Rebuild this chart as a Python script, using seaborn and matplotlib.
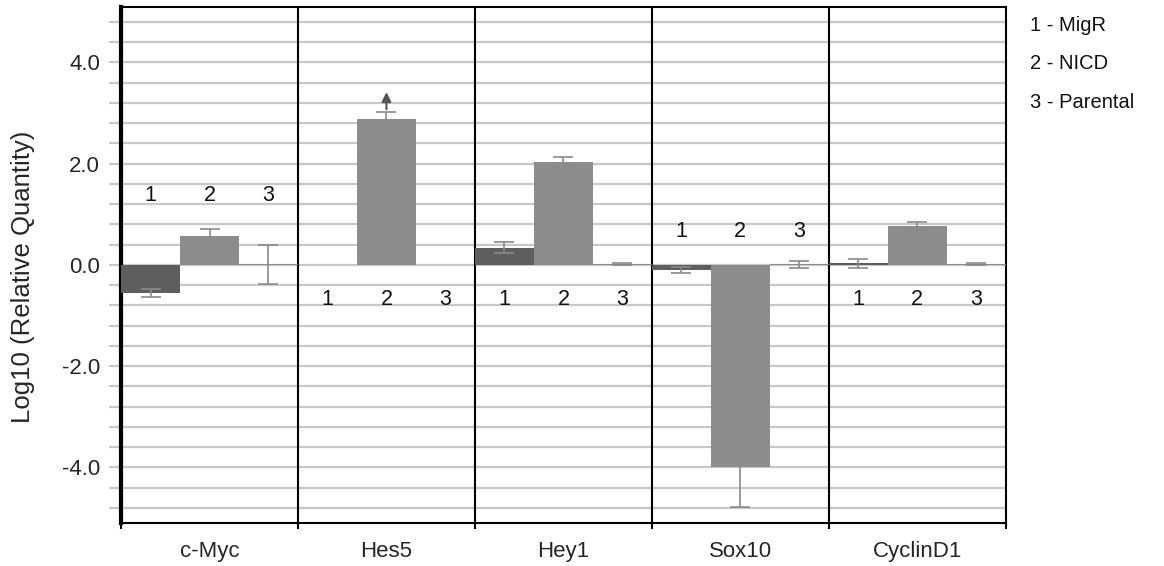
import numpy as np
import pandas as pd
import seaborn as sns
import matplotlib
matplotlib.use("Agg")
import matplotlib.pyplot as plt

# ---- data ----
genes = ["c-Myc", "Hes5", "Hey1", "Sox10", "CyclinD1"]
samples = ["1", "2", "3"]
sample_names = ["MigR", "NICD", "Parental"]
migr = [-0.55, 0.0, 0.34, -0.11, 0.03]
nicd = [0.57, 2.88, 2.03, -4.0, 0.77]
parental = [0.01, 0.0, 0.01, 0.01, 0.01]
migr_err = [0.08, np.nan, 0.11, 0.06, 0.09]
nicd_err = [0.14, 0.14, 0.10, 0.78, 0.08]
parental_err = [0.38, np.nan, 0.02, 0.07, 0.02]
# where the number labels sit for each gene
label_level = [1.38, -0.69, -0.69, 0.65, -0.69]
# Hes5 NICD error arrow tip
arrow_gene, arrow_sample, arrow_tip = "Hes5", "2", 3.47

ytick_labels = ["-4.0", "-2.0", "0.0", "2.0", "4.0"]

df = pd.DataFrame({
    "gene": genes * 3,
    "sample": sum([[s] * len(genes) for s in samples], []),
    "value": migr + nicd + parental,
    "err": migr_err + nicd_err + parental_err,
})

sns.set_theme(style="white")
plt.rcParams["font.family"] = ["Liberation Sans", "DejaVu Sans"]

fig = plt.figure(figsize=(11.64, 5.66), dpi=100)
ax = fig.add_axes([0.104, 0.076, 0.760, 0.912])

palette = {"1": "#5e5e5e", "2": "#8c8c8c", "3": "#8c8c8c"}
sns.barplot(data=df, x="gene", y="value", hue="sample", order=genes,
            hue_order=samples, palette=palette, width=1.0, gap=0,
            errorbar=None, legend=False, ax=ax, zorder=3, linewidth=0,
            saturation=1)

# bar centres from the categorical positions
n = len(samples)
def xpos(gi, si):
    return gi - 0.5 + (si + 0.5) / n

for gi, g in enumerate(genes):
    for si, s in enumerate(samples):
        row = df[(df.gene == g) & (df["sample"] == s)].iloc[0]
        if not np.isnan(row.err):
            ax.errorbar(xpos(gi, si), row.value, yerr=row.err, fmt="none",
                        ecolor="#8a8a8a", elinewidth=1.2, capsize=7,
                        capthick=1.2, zorder=4)
        ax.text(xpos(gi, si), label_level[gi], s, ha="center", va="center",
                fontsize=15.5, color="#111111", zorder=5)

# arrow for off-scale error
gi = genes.index(arrow_gene); si = samples.index(arrow_sample)
base = df[(df.gene == arrow_gene) & (df["sample"] == arrow_sample)].iloc[0]
ax.annotate("", xy=(xpos(gi, si), arrow_tip),
            xytext=(xpos(gi, si), base.value + base.err),
            arrowprops=dict(arrowstyle="-|>", color="#555555", lw=1.5,
                            mutation_scale=14), zorder=5)

# separators between genes
for k in range(1, len(genes)):
    ax.axvline(k - 0.5, color="black", lw=1.5, zorder=2)

ax.set_xlim(-0.5, len(genes) - 0.5)
ax.set_ylim(-5.1, 5.1)
yt = np.round(np.arange(-4.8, 4.81, 0.4), 1)
ax.set_yticks(yt)
ax.set_yticklabels([f"{v:.1f}" if f"{v:.1f}" in ytick_labels else "" for v in yt])
ax.yaxis.grid(True, color="#c8c8c8", lw=1.6, zorder=0)
ax.set_axisbelow(True)
ax.tick_params(axis="y", length=9, width=1.6, color="#c8c8c8", labelsize=16, pad=6, left=True)
ax.set_xticks(np.arange(-0.5, len(genes), 1.0), minor=True)
ax.tick_params(axis="x", which="minor", length=4, width=1.5, color="black", bottom=True)
ax.tick_params(axis="x", which="major", length=0, labelsize=16, pad=13)
ax.set_xlabel("")
ax.set_ylabel("Log10 (Relative Quantity)", fontsize=18.5)
ax.yaxis.set_label_coords(-0.097, 0.477)

for side in ["top", "right", "bottom"]:
    ax.spines[side].set_color("black")
    ax.spines[side].set_linewidth(1.5)
ax.spines["left"].set_color("black")
ax.spines["left"].set_linewidth(3)

for i, (s, name) in enumerate(zip(samples, sample_names)):
    fig.text(0.885, 0.955 - i * 0.068, f"{s} - {name}", fontsize=14.5,
             ha="left", va="center", color="#111111")

fig.savefig("out.png", dpi=100)
